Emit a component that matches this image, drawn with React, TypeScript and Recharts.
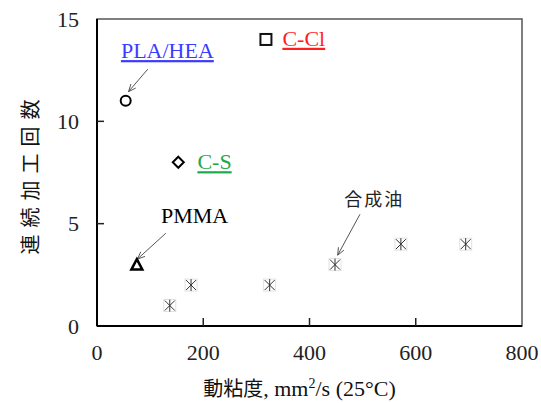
import { ScatterChart, Scatter, XAxis, YAxis, ReferenceArea, ReferenceLine } from 'recharts';

const SERIF = "'Liberation Serif', Tinos, 'Times New Roman', Times, 'DejaVu Serif', 'Noto Serif', serif";
const CJK = "'Noto Sans CJK JP', 'Noto Sans CJK SC', sans-serif";

// measured points (viscosity mm2/s, continuous runs)
const plaHea = [{ x: 54, y: 11 }];
const cS = [{ x: 153, y: 8 }];
const cCl = [{ x: 318, y: 14 }];
const pmma = [{ x: 75, y: 3 }];
const syntheticOil = [
    { x: 137, y: 1 },
    { x: 177, y: 2 },
    { x: 325, y: 2 },
    { x: 448, y: 3 },
    { x: 572, y: 4 },
    { x: 694, y: 4 },
];

const xTicks = [0, 200, 400, 600, 800];
const yTicks = [0, 5, 10, 15];

// text labels placed in data units (start of text, baseline)
const labels = [
    { x: 45, y: 13.09, text: 'PLA/HEA', color: '#3b3bff', font: SERIF, size: 22, underline: true },
    { x: 349, y: 13.69, text: 'C-Cl', color: '#ff1f1f', font: SERIF, size: 22, underline: true },
    { x: 189, y: 7.66, text: 'C-S', color: '#1fa84c', font: SERIF, size: 22, underline: true },
    { x: 120.5, y: 5.01, text: 'PMMA', color: '#000', font: SERIF, size: 22, underline: false },
    { x: 465.6, y: 5.84, text: '合成油', color: '#222', font: CJK, size: 18, underline: false },
];

// leader arrows: from label to point
const arrows = [
    { from: { x: 95.6, y: 12.55 }, to: { x: 59.3, y: 11.45 } },
    { from: { x: 129.4, y: 4.53 }, to: { x: 76.1, y: 3.27 } },
    { from: { x: 495, y: 5.46 }, to: { x: 453, y: 3.46 } },
];

const ArrowShape = (props: any) => {
    const { x1, y1, x2, y2 } = props;
    const ang = Math.atan2(y2 - y1, x2 - x1);
    const len = 8;
    const spread = 0.4;
    const ax = x2 - len * Math.cos(ang - spread);
    const ay = y2 - len * Math.sin(ang - spread);
    const bx = x2 - len * Math.cos(ang + spread);
    const by = y2 - len * Math.sin(ang + spread);
    return (
        <g stroke="#555" strokeWidth={1} fill="none">
            <line x1={x1} y1={y1} x2={x2} y2={y2} />
            <polyline points={`${ax},${ay} ${x2},${y2} ${bx},${by}`} />
        </g>
    );
};

const LabelShape = (props: any) => {
    const { cx, cy, payload } = props;
    return (
        <text
            x={cx}
            y={cy}
            fill={payload.color}
            style={{
                fontFamily: payload.font,
                fontSize: payload.size,
                letterSpacing: payload.font === CJK ? 2 : 0,
                textDecoration: payload.underline ? 'underline' : 'none',
            }}
        >
            {payload.text}
        </text>
    );
};

const CircleShape = (props: any) => (
    <circle cx={props.cx} cy={props.cy} r={5} fill="#fff" stroke="#000" strokeWidth={2} />
);

const DiamondShape = (props: any) => {
    const { cx, cy } = props;
    const d = 5.5;
    return (
        <polygon
            points={`${cx},${cy - d} ${cx + d},${cy} ${cx},${cy + d} ${cx - d},${cy}`}
            fill="#fff"
            stroke="#000"
            strokeWidth={2}
        />
    );
};

const SquareShape = (props: any) => (
    <rect x={props.cx - 5.5} y={props.cy - 5.5} width={11} height={11} fill="#fff" stroke="#111" strokeWidth={2} />
);

const TriangleShape = (props: any) => {
    const { cx, cy } = props;
    return (
        <polygon
            points={`${cx},${cy - 5.5} ${cx + 5.5},${cy + 5} ${cx - 5.5},${cy + 5}`}
            fill="#fff"
            stroke="#000"
            strokeWidth={2.5}
        />
    );
};

const StarShape = (props: any) => {
    const { cx, cy } = props;
    const h = 6;
    return (
        <g>
            <rect x={cx - h} y={cy - h} width={h * 2} height={h * 2} fill="none" stroke="#e2e2e2" strokeWidth={1} />
            <g stroke="#333" strokeWidth={1}>
                <line x1={cx - 5} y1={cy - 5} x2={cx + 5} y2={cy + 5} />
                <line x1={cx + 5} y1={cy - 5} x2={cx - 5} y2={cy + 5} />
                <line x1={cx} y1={cy - 6} x2={cx} y2={cy + 6} />
            </g>
        </g>
    );
};

const XTick = (props: any) => {
    const { x, y, payload } = props;
    const axisY = y - 18;
    const v = payload.value;
    return (
        <g>
            <text x={x} y={y} dy="0.71em" textAnchor="middle" fill="#222" style={{ fontFamily: SERIF, fontSize: 22 }}>
                {v}
            </text>
            {v > 0 && v < 800 && <line x1={x} y1={axisY} x2={x} y2={axisY - 8} stroke="#222" strokeWidth={1.5} />}
        </g>
    );
};

const YTick = (props: any) => {
    const { x, y, payload } = props;
    const axisX = x + 18;
    const v = payload.value;
    return (
        <g>
            <text x={x} y={y} dy="0.35em" textAnchor="end" fill="#222" style={{ fontFamily: SERIF, fontSize: 22 }}>
                {v}
            </text>
            {v > 0 && v < 15 && <line x1={axisX} y1={y} x2={axisX + 7} y2={y} stroke="#222" strokeWidth={1.5} />}
        </g>
    );
};

const XLabel = (props: any) => {
    const { viewBox } = props;
    const cx = viewBox.x + viewBox.width / 2 - 10;
    return (
        <text x={cx} y={viewBox.y + 70} textAnchor="middle" fill="#111" style={{ fontSize: 22, fontFamily: SERIF }}>
            <tspan style={{ fontFamily: CJK, fontSize: 20 }}>動粘度</tspan>
            <tspan>, mm</tspan>
            <tspan dy={-8} style={{ fontSize: 14 }}>2</tspan>
            <tspan dy={8}>/s (25°C)</tspan>
        </text>
    );
};

const YLabel = (props: any) => {
    const { viewBox } = props;
    const cy = viewBox.y + viewBox.height / 2 + 1;
    const cx = 29;
    return (
        <text
            x={cx}
            y={cy}
            transform={`rotate(-90 ${cx} ${cy})`}
            textAnchor="middle"
            dominantBaseline="central"
            fill="#111"
            style={{ fontFamily: CJK, fontSize: 20, letterSpacing: 7 }}
        >
            連続加工回数
        </text>
    );
};

export default function App() {
    return (
        <div style={{ position: 'absolute', left: 0, top: 0, width: 541, height: 403, background: '#fff' }}>
            <ScatterChart width={541} height={403} margin={{ top: 19, right: 19, left: 17, bottom: 0 }}>
                <XAxis
                    type="number"
                    dataKey="x"
                    domain={[0, 800]}
                    ticks={xTicks}
                    interval={0}
                    height={77}
                    tickSize={0}
                    tickMargin={18}
                    tick={<XTick />}
                    axisLine={{ stroke: '#000', strokeWidth: 2 }}
                    label={<XLabel />}
                />
                <YAxis
                    type="number"
                    dataKey="y"
                    domain={[0, 15]}
                    ticks={yTicks}
                    interval={0}
                    width={80}
                    tickSize={0}
                    tickMargin={18}
                    tick={<YTick />}
                    axisLine={{ stroke: '#000', strokeWidth: 2 }}
                    label={<YLabel />}
                />
                <ReferenceArea x1={0} x2={800} y1={0} y2={15} fill="none" stroke="#555" strokeWidth={1.5} />
                {arrows.map((a, i) => (
                    <ReferenceLine key={`arrow-${i}`} segment={[a.from, a.to]} shape={ArrowShape} />
                ))}
                <Scatter data={plaHea} shape={CircleShape} isAnimationActive={false} />
                <Scatter data={cS} shape={DiamondShape} isAnimationActive={false} />
                <Scatter data={cCl} shape={SquareShape} isAnimationActive={false} />
                <Scatter data={pmma} shape={TriangleShape} isAnimationActive={false} />
                <Scatter data={syntheticOil} shape={StarShape} isAnimationActive={false} />
                <Scatter data={labels} shape={LabelShape} isAnimationActive={false} />
            </ScatterChart>
        </div>
    );
}
